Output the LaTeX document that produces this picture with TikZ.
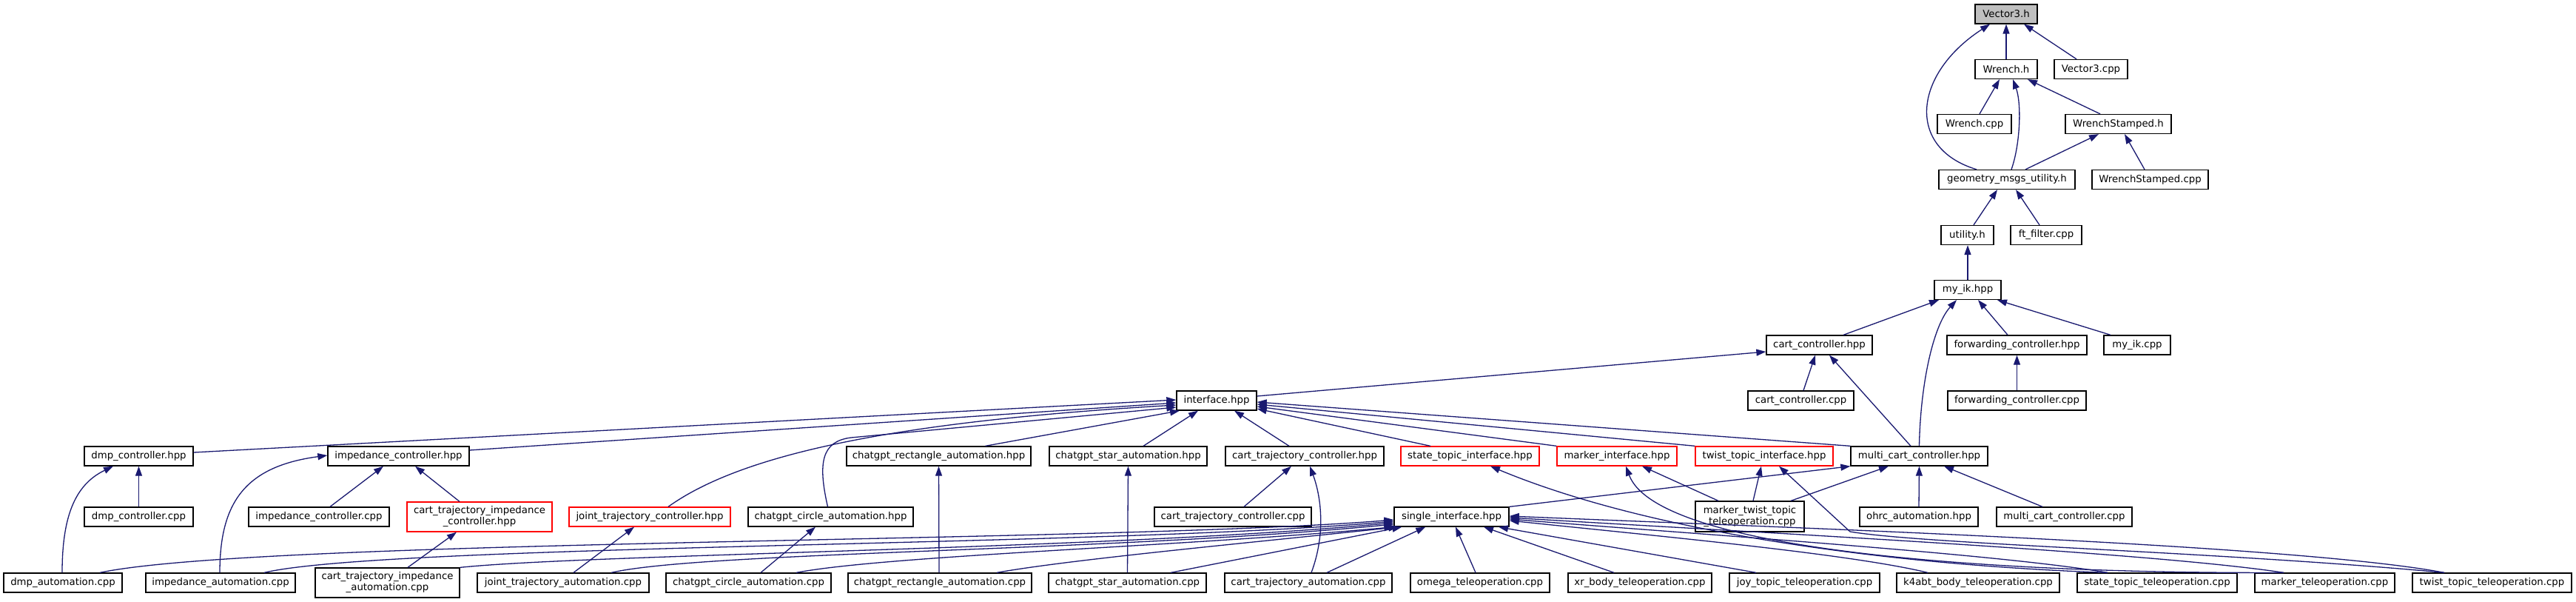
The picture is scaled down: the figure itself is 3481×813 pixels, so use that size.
\documentclass[tikz,border=0pt]{standalone}
\usepackage{fontspec}
\setmainfont{DejaVu Sans}
\usetikzlibrary{arrows.meta}
\definecolor{edgec}{HTML}{191970}
\definecolor{rootfill}{HTML}{BFBFBF}
\begin{document}
\begin{tikzpicture}[x=1pt,y=-1pt,
  box/.style={draw=black, line width=1.3pt, fill=white, rectangle, inner xsep=2pt, inner ysep=0pt,
    minimum height=26pt, font=\fontsize{13.3}{15}\selectfont, align=center},
  redbox/.style={box, draw=red},
  e/.style={draw=edgec, line width=1.3pt, -{Triangle[length=13pt,width=9pt]}}]
\useasboundingbox[fill=white] (0,0) rectangle (3481,813);
% top tree
\node[box, fill=rootfill, minimum width=84pt] (v3h) at (2711,19) {Vector3.h};
\node[box, minimum width=84pt] (wrh) at (2711,93.5) {Wrench.h};
\node[box, minimum width=99pt] (v3c) at (2825.5,93.5) {Vector3.cpp};
\node[box, minimum width=100pt] (wrc) at (2668,167.5) {Wrench.cpp};
\node[box, minimum width=143pt] (wsh) at (2862.5,167.5) {WrenchStamped.h};
\node[box, minimum width=184pt] (gmu) at (2712,242.5) {geometry\_msgs\_utility.h};
\node[box, minimum width=157pt] (wsc) at (2905.5,242.5) {WrenchStamped.cpp};
\node[box, minimum width=71pt] (uth) at (2658.5,317.5) {utility.h};
\node[box, minimum width=96pt] (ftf) at (2765,317.5) {ft\_filter.cpp};
\node[box, minimum width=90pt] (myik) at (2659,391.5) {my\_ik.hpp};
\node[box, minimum width=143pt] (cch) at (2458.5,466) {cart\_controller.hpp};
\node[box, minimum width=189pt] (fwh) at (2725.5,466) {forwarding\_controller.hpp};
\node[box, minimum width=90pt] (myc) at (2888,466) {my\_ik.cpp};
\node[box, minimum width=108pt] (ifc) at (1644,541) {interface.hpp};
\node[box, minimum width=143pt] (ccc) at (2433.5,541) {cart\_controller.cpp};
\node[box, minimum width=187pt] (fwc) at (2725.5,541) {forwarding\_controller.cpp};
% row 616
\node[box, minimum width=147pt] (dmph) at (187.5,616) {dmp\_controller.hpp};
\node[box, minimum width=191pt] (imph) at (538.5,616) {impedance\_controller.hpp};
\node[box, minimum width=249pt] (rech) at (1268.5,616) {chatgpt\_rectangle\_automation.hpp};
\node[box, minimum width=213pt] (starh) at (1524.5,616) {chatgpt\_star\_automation.hpp};
\node[box, minimum width=214pt] (ctch) at (1763,616) {cart\_trajectory\_controller.hpp};
\node[redbox, minimum width=187pt] (stih) at (1986.5,616) {state\_topic\_interface.hpp};
\node[redbox, minimum width=162pt] (mkih) at (2185,616) {marker\_interface.hpp};
\node[redbox, minimum width=186pt] (twih) at (2384,616) {twist\_topic\_interface.hpp};
\node[box, minimum width=185pt] (mcch) at (2593.5,616) {multi\_cart\_controller.hpp};
% row 698
\node[box, minimum width=147pt] (dmpc) at (187.5,698) {dmp\_controller.cpp};
\node[box, minimum width=190pt] (impc) at (431,698) {impedance\_controller.cpp};
\node[redbox, minimum width=196pt, minimum height=40pt] (ctih) at (648,698) {cart\_trajectory\_impedance\\\_controller.hpp};
\node[redbox, minimum width=218pt] (jtch) at (878,698) {joint\_trajectory\_controller.hpp};
\node[box, minimum width=223pt] (cirh) at (1122.5,698) {chatgpt\_circle\_automation.hpp};
\node[box, minimum width=212pt] (ctcc) at (1666,698) {cart\_trajectory\_controller.cpp};
\node[box, minimum width=155pt] (sgl) at (1961.5,698) {single\_interface.hpp};
\node[box, minimum width=147pt, minimum height=41pt] (mttc) at (2364.5,697.5) {marker\_twist\_topic\\\_teleoperation.cpp};
\node[box, minimum width=160pt] (ohrc) at (2593,698) {ohrc\_automation.hpp};
\node[box, minimum width=183pt] (mccc) at (2789.5,698) {multi\_cart\_controller.cpp};
% row 787
\node[box, minimum width=160pt] (dmpa) at (85,787) {dmp\_automation.cpp};
\node[box, minimum width=202pt] (impa) at (298,787) {impedance\_automation.cpp};
\node[box, minimum width=195pt, minimum height=40pt] (ctia) at (523.5,787) {cart\_trajectory\_impedance\\\_automation.cpp};
\node[box, minimum width=232pt] (jta) at (761,787) {joint\_trajectory\_automation.cpp};
\node[box, minimum width=223pt] (cira) at (1011.5,787) {chatgpt\_circle\_automation.cpp};
\node[box, minimum width=248pt] (reca) at (1270,787) {chatgpt\_rectangle\_automation.cpp};
\node[box, minimum width=213pt] (stara) at (1523.5,787) {chatgpt\_star\_automation.cpp};
\node[box, minimum width=226pt] (cta) at (1768,787) {cart\_trajectory\_automation.cpp};
\node[box, minimum width=188pt] (omg) at (2000,787) {omega\_teleoperation.cpp};
\node[box, minimum width=194pt] (xrb) at (2216,787) {xr\_body\_teleoperation.cpp};
\node[box, minimum width=203pt] (joy) at (2438.5,787) {joy\_topic\_teleoperation.cpp};
\node[box, minimum width=220pt] (k4a) at (2673,787) {k4abt\_body\_teleoperation.cpp};
\node[box, minimum width=216pt] (stt) at (2915,787) {state\_topic\_teleoperation.cpp};
\node[box, minimum width=189pt] (mkt) at (3141.5,787) {marker\_teleoperation.cpp};
\node[box, minimum width=215pt] (twt) at (3367.5,787) {twist\_topic\_teleoperation.cpp};
% ---- edges: top tree
\draw[e] (wrh.north) -- (v3h.south);
\draw[e] ([xshift=-19.5pt]v3c.north) -- ([xshift=24pt]v3h.south);
\draw[e] ([xshift=-41pt]gmu.north) .. controls (2575,200) and (2585,100) .. ([xshift=-22pt]v3h.south);
\draw[e] ([xshift=6pt]gmu.north) .. controls (2730,195) and (2732,140) .. ([xshift=9pt]wrh.south);
\draw[e] ([xshift=7pt]wrc.north) -- ([xshift=-9pt]wrh.south);
\draw[e] ([xshift=-24.5pt]wsh.north) -- ([xshift=29pt]wrh.south);
\draw[e] ([xshift=25pt]gmu.north) -- ([xshift=-26.5pt]wsh.south);
\draw[e] ([xshift=-7.5pt]wsc.north) -- ([xshift=8.5pt]wsh.south);
\draw[e] ([xshift=8.5pt]uth.north) -- ([xshift=-13pt]gmu.south);
\draw[e] ([xshift=-9pt]ftf.north) -- ([xshift=12pt]gmu.south);
\draw[e] (myik.north) -- (myik.north |- uth.south);
% my_ik
\draw[e] ([xshift=32.5pt]cch.north) -- ([xshift=-39pt]myik.south);
\draw[e] (mcch.north) .. controls (2595,520) and (2612,440) .. ([xshift=-15pt]myik.south);
\draw[e] ([xshift=-12.5pt]fwh.north) -- ([xshift=14pt]myik.south);
\draw[e] ([xshift=-36pt]myc.north) -- ([xshift=40pt]myik.south);
\draw[e] ([yshift=6pt]ifc.east) -- ([yshift=-9pt]cch.west);
\draw[e] ([xshift=3.5pt]ccc.north) -- ([xshift=-5.5pt]cch.south);
\draw[e] ([xshift=-11.5pt]mcch.north) -- ([xshift=13.5pt]cch.south);
\draw[e] (fwc.north) -- (fwh.south);
% into interface.hpp
\draw[e] ([xshift=-53.5pt]stih.north) -- ([yshift=-11pt]ifc.east);
\draw[e] (mkih.north west) -- ([yshift=-8pt]ifc.east);
\draw[e] (twih.north west) -- ([yshift=-5pt]ifc.east);
\draw[e] (mcch.north west) -- ([yshift=-2pt]ifc.east);
\draw[e] ([xshift=-21pt]ctch.north) -- ([xshift=24pt]ifc.south);
\draw[e] ([xshift=20.5pt]starh.north) -- ([xshift=-25pt]ifc.south);
\draw[e] ([xshift=63pt]rech.north) -- ([xshift=-50pt]ifc.south);
\draw[e] ([yshift=5pt]dmph.east) -- ([yshift=1pt]ifc.west);
\draw[e] ([yshift=8pt]imph.east) -- ([yshift=-3pt]ifc.west);
\draw[e] ([xshift=25pt]jtch.north) .. controls (1000,615) and (1200,570) .. ([yshift=-6pt]ifc.west);
\draw[e] ([xshift=-4pt]cirh.north) .. controls (1105,625) and (1110,596) .. (1150,591) -- ([yshift=-9pt]ifc.west);
% controllers
\draw[e] (dmpc.north) -- (dmph.south);
\draw[e] ([xshift=-1pt]dmpa.north) .. controls (84,700) and (100,655) .. ([xshift=-34.5pt]dmph.south);
\draw[e] ([xshift=15pt]impc.north) -- ([xshift=-20.5pt]imph.south);
\draw[e] ([xshift=-27pt]ctih.north) -- ([xshift=22.5pt]imph.south);
\draw[e] ([xshift=-1pt]impa.north) .. controls (297,680) and (330,630) .. ([yshift=1pt]imph.west);
\draw[e] ([xshift=27.5pt]ctia.north) -- ([xshift=-31pt]ctih.south);
\draw[e] ([xshift=14pt]jta.north) -- ([xshift=-21pt]jtch.south);
\draw[e] ([xshift=16.5pt]cira.north) -- ([xshift=-20.5pt]cirh.south);
\draw[e] ([xshift=-1pt]reca.north) -- (rech.south);
\draw[e] (stara.north) -- (starh.south);
\draw[e] ([xshift=15pt]ctcc.north) -- ([xshift=-18pt]ctch.south);
\draw[e] ([xshift=4pt]cta.north) .. controls (1792,720) and (1785,670) .. ([xshift=7pt]ctch.south);
% single_interface
\draw[e] (sgl.north east) -- (mcch.south west);
\draw[e] ([xshift=50pt]dmpa.north) .. controls (350,728) and (1500,733) .. ([yshift=-4pt]sgl.west);
\draw[e] ([xshift=59pt]impa.north) .. controls (520,735) and (1500,738) .. ([yshift=-6pt]sgl.west);
\draw[e] (ctia.north east) .. controls (800,748) and (1500,742) .. ([yshift=-8pt]sgl.west);
\draw[e] ([xshift=65pt]jta.north) .. controls (950,745) and (1500,745) .. ([yshift=-10pt]sgl.west);
\draw[e] ([xshift=64.5pt]cira.north) .. controls (1200,750) and (1600,738) .. (sgl.south west);
\draw[e] ([xshift=77pt]reca.north) .. controls (1450,755) and (1700,732) .. ([xshift=6pt]sgl.south west);
\draw[e] ([xshift=58.5pt]stara.north) -- ([xshift=11pt]sgl.south west);
\draw[e] ([xshift=25pt]cta.north) -- ([xshift=43pt]sgl.south west);
\draw[e] ([xshift=-6pt]omg.north) -- ([xshift=5.5pt]sgl.south);
\draw[e] ([xshift=-35pt]xrb.north) -- ([xshift=43.5pt]sgl.south);
\draw[e] ([xshift=-65.5pt]joy.north) -- ([xshift=63.5pt]sgl.south);
\draw[e] ([xshift=-68pt]k4a.north) .. controls (2500,748) and (2250,725) .. ([yshift=-5pt]sgl.east);
\draw[e] ([xshift=-67pt]stt.north) .. controls (2700,748) and (2300,722) .. ([yshift=-3pt]sgl.east);
\draw[e] ([xshift=-55.5pt]mkt.north) .. controls (2900,745) and (2350,718) .. ([yshift=-1pt]sgl.east);
\draw[e] ([xshift=-64.5pt]twt.north) .. controls (3100,735) and (2400,712) .. ([yshift=1pt]sgl.east);
% topic interfaces to teleoperation
\draw[e] ([xshift=-67pt]stt.north) .. controls (2600,765) and (2250,728) .. ([xshift=27.5pt]stih.south);
\draw[e] ([xshift=-55.5pt]mkt.north) .. controls (2700,775) and (2240,745) .. ([xshift=12pt]mkih.south);
\draw[e] ([xshift=-64.5pt]twt.north) .. controls (3000,745) and (2600,735) .. (2500,718) -- ([xshift=20pt]twih.south);
\draw[e] ([xshift=-42.5pt]mttc.north) -- ([xshift=34pt]mkih.south);
\draw[e] ([xshift=4.5pt]mttc.north) -- ([xshift=-4pt]twih.south);
\draw[e] ([xshift=55.5pt]mttc.north) -- ([xshift=-41.5pt]mcch.south);
\draw[e] (ohrc.north) -- (mcch.south);
\draw[e] ([xshift=-29.5pt]mccc.north) -- ([xshift=33.5pt]mcch.south);
\end{tikzpicture}
\end{document}
